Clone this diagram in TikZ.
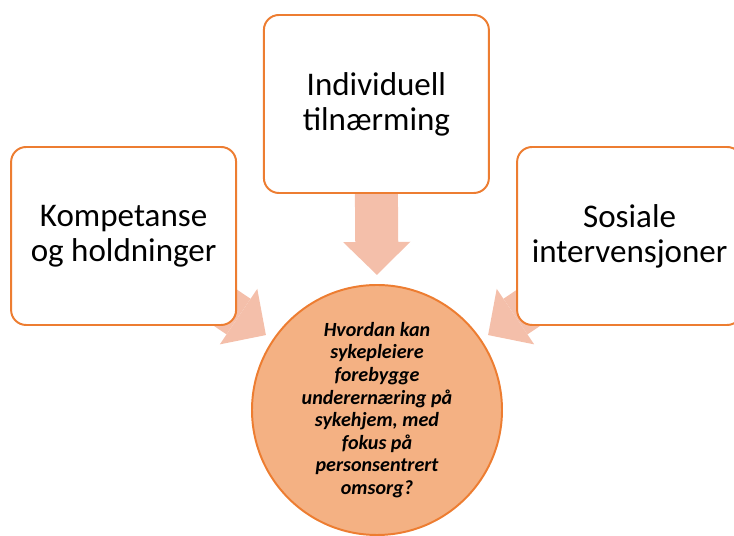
\documentclass[tikz,border=0pt]{standalone}
\usepackage{fontspec}
\setmainfont{Carlito}
\usetikzlibrary{arrows.meta,calc,backgrounds}

\definecolor{boxorange}{HTML}{ED7D31}
\definecolor{circfill}{HTML}{F4B183}
\definecolor{arrowpink}{HTML}{F4BFAA}

\tikzset{
  themebox/.style={draw=boxorange, line width=1.4pt, fill=white, rounded corners=0.375cm,
    minimum width=5.625cm, minimum height=4.45cm, align=center,
    font=\fontsize{23.5}{25}\selectfont},
  question/.style={circle, draw=boxorange, line width=1.4pt, fill=circfill, minimum size=6.25cm,
    inner sep=0pt, align=center, font=\fontsize{14.3}{16.1}\selectfont\bfseries\itshape},
  blockarrow/.style={arrowpink, line width=1.075cm,
    -{Triangle[width=1.675cm, length=0.825cm, line width=0pt]}}
}

\begin{document}
\begin{tikzpicture}
    \useasboundingbox (0,0) rectangle (18.35,13.4);

    \node[themebox] (kompetanse) at (3.09,7.5) {Kompetanse\\og holdninger};
    \node[themebox] (individuell) at (9.41,10.8) {Individuell\\tilnærming};
    \node[themebox] (sosiale) at (15.74,7.5) {Sosiale\\intervensjoner};

    \node[question] (sporsmal) at (9.425,3.15) {Hvordan kan\\sykepleiere\\forebygge\\underernæring på\\sykehjem, med\\fokus på\\personsentrert\\omsorg?};

    \coordinate (toptip) at ($(sporsmal.center)+(90:3.375)$);
    \coordinate (lefttip) at ($(sporsmal.center)+(146:3.35)$);
    \coordinate (righttip) at ($(sporsmal.center)+(34:3.35)$);

    \begin{scope}[on background layer]
        \draw[blockarrow] (individuell.south) -- (toptip);
        \draw[blockarrow] ($(lefttip)+(146:2.05)$) -- (lefttip);
        \draw[blockarrow] ($(righttip)+(34:2.05)$) -- (righttip);
    \end{scope}
\end{tikzpicture}
\end{document}
